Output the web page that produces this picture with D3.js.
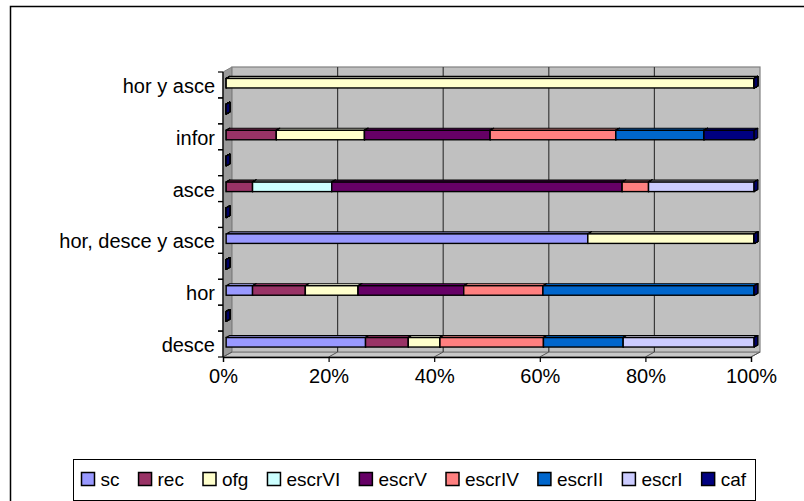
<!DOCTYPE html>
<html>
<head>
<meta charset="utf-8">
<script src="https://cdn.jsdelivr.net/npm/d3@7"></script>
<style>
  html, body { margin: 0; padding: 0; background: #fff; }
  svg { display: block; font-family: "Liberation Sans", Arial, sans-serif; }
</style>
</head>
<body>
<svg id="chart" width="804" height="501"></svg>
<script>
// Categories, bottom to top (blank rows sit between the labelled ones)
const categories = ["desce", "", "hor", "", "hor, desce y asce", "", "asce", "", "infor", "", "hor y asce"];

// Series (percent of each row)
const seriesNames = ["sc", "rec", "ofg", "escrVI", "escrV", "escrIV", "escrII", "escrI", "caf"];
const seriesColors = ["#9999FF", "#993366", "#FFFFCC", "#CCFFFF", "#660066", "#FF8080", "#0066CC", "#CCCCFF", "#000080"];

const sc     = [26.4, 0,  5, 0, 68.5, 0,  0, 0,  0,   0,   0];
const rec    = [ 8.1, 0, 10, 0,  0,   0,  5, 0,  9.5, 0,   0];
const ofg    = [ 6.0, 0, 10, 0, 31.5, 0,  0, 0, 16.7, 0, 100];
const escrVI = [ 0,   0,  0, 0,  0,   0, 15, 0,  0,   0,   0];
const escrV  = [ 0,   0, 20, 0,  0,   0, 55, 0, 23.8, 0,   0];
const escrIV = [19.6, 0, 15, 0,  0,   0,  5, 0, 23.8, 0,   0];
const escrII = [15.1, 0, 40, 0,  0,   0,  0, 0, 16.7, 0,   0];
const escrI  = [24.8, 0,  0, 0,  0,   0, 20, 0,  0,   0,   0];
const caf    = [ 0,   0,  0, 0,  0,   0,  0, 0,  9.5, 0,   0];

const xTicks = [0, 0.2, 0.4, 0.6, 0.8, 1];

const seriesValues = [sc, rec, ofg, escrVI, escrV, escrIV, escrII, escrI, caf];

const rows = categories.map((c, i) => {
  const r = { key: i };
  seriesNames.forEach((s, k) => { r[s] = seriesValues[k][i]; });
  return r;
});

const stacked = d3.stack()
  .keys(seriesNames)
  .offset(d3.stackOffsetExpand)(rows);

const svg = d3.select("#chart");

// Outer chart frame
svg.append("rect")
  .attr("x", 10.5).attr("y", 6.5)
  .attr("width", 820).attr("height", 520)
  .attr("fill", "#fff").attr("stroke", "#000").attr("stroke-width", 1.5);

// Plot geometry (front plane) and depth offset
const plotLeft = 223, plotRight = 751, plotTop = 72, plotBottom = 357;
const depth = { x: 9, y: -5 };

const x = d3.scaleLinear().domain([0, 1]).range([plotLeft, plotRight]);
const y = d3.scaleBand()
  .domain(d3.range(categories.length))
  .range([plotBottom, plotTop])
  .padding(0);

const g = svg.append("g");

// Side wall
g.append("polygon")
  .attr("points", [[plotLeft, plotTop], [plotLeft + depth.x, plotTop + depth.y], [plotLeft + depth.x, plotBottom + depth.y], [plotLeft, plotBottom]].join(" "))
  .attr("fill", "#9a9a9a").attr("stroke", "#808080").attr("stroke-width", 1);

// Floor
g.append("polygon")
  .attr("points", [[plotLeft, plotBottom], [plotLeft + depth.x, plotBottom + depth.y], [plotRight + depth.x, plotBottom + depth.y], [plotRight, plotBottom]].join(" "))
  .attr("fill", "#c8c8c8").attr("stroke", "#808080").attr("stroke-width", 1);

// Back wall
g.append("rect")
  .attr("x", plotLeft + depth.x).attr("y", plotTop + depth.y)
  .attr("width", plotRight - plotLeft).attr("height", plotBottom - plotTop)
  .attr("fill", "#c0c0c0").attr("stroke", "#808080").attr("stroke-width", 1.2);

// Gridlines on the back wall and the floor
xTicks.filter(t => t > 0 && t < 1).forEach(t => {
  g.append("line")
    .attr("x1", x(t) + depth.x).attr("x2", x(t) + depth.x)
    .attr("y1", plotTop + depth.y).attr("y2", plotBottom + depth.y)
    .attr("stroke", "#3a3a3a").attr("stroke-width", 1.2);
});
xTicks.forEach(t => {
  g.append("line")
    .attr("x1", x(t)).attr("y1", plotBottom)
    .attr("x2", x(t) + depth.x).attr("y2", plotBottom + depth.y)
    .attr("stroke", "#555").attr("stroke-width", 1);
});

// Bars: front face, top face and end face for each stacked segment
const f1 = 0.35, f2 = 0.75;
const fx = depth.x * f1, fy = depth.y * f1;
const bx = depth.x * (f2 - f1), by = depth.y * (f2 - f1);
const barH = 9.5;

const bars = g.append("g");
categories.forEach((c, i) => {
  const yc = y(i) + y.bandwidth() / 2 + fy;
  const y0 = yc - barH / 2, y1 = yc + barH / 2;
  stacked.forEach((layer, k) => {
    const d = layer[i];
    const xa = x(d[0]) + fx, xb = x(d[1]) + fx;
    const col = d3.color(seriesColors[k]);
    // top face
    bars.append("polygon")
      .attr("points", [[xa, y0], [xa + bx, y0 + by], [xb + bx, y0 + by], [xb, y0]].join(" "))
      .attr("fill", col.brighter(0.35)).attr("stroke", "#000").attr("stroke-width", 1.2)
      .attr("stroke-linejoin", "round");
    // front face
    bars.append("rect")
      .attr("x", xa).attr("y", y0)
      .attr("width", xb - xa).attr("height", y1 - y0)
      .attr("fill", col).attr("stroke", "#000").attr("stroke-width", 1.4);
    // end face
    bars.append("polygon")
      .attr("points", [[xb, y0], [xb + bx, y0 + by], [xb + bx, y1 + by], [xb, y1]].join(" "))
      .attr("fill", col.darker(0.6)).attr("stroke", "#000").attr("stroke-width", 1.2)
      .attr("stroke-linejoin", "round");
  });
});

// Category axis
g.append("line")
  .attr("x1", plotLeft).attr("x2", plotLeft)
  .attr("y1", plotTop).attr("y2", plotBottom)
  .attr("stroke", "#000").attr("stroke-width", 1.3);
categories.forEach((c, i) => {
  [y(i), y(i) + y.bandwidth()].forEach(v => {
    g.append("line")
      .attr("x1", plotLeft - 5).attr("x2", plotLeft)
      .attr("y1", v).attr("y2", v)
      .attr("stroke", "#000").attr("stroke-width", 1.2);
  });
  if (c) {
    g.append("text")
      .attr("x", 215)
      .attr("y", y(i) + y.bandwidth() / 2 + 1)
      .attr("text-anchor", "end")
      .attr("dominant-baseline", "central")
      .attr("font-size", 20)
      .attr("fill", "#000")
      .text(c);
  }
});

// Value axis
const xAxis = d3.axisBottom(x)
  .tickValues(xTicks)
  .tickFormat(d3.format(".0%"))
  .tickSize(5)
  .tickPadding(7);
const ax = g.append("g")
  .attr("transform", `translate(0,${plotBottom})`)
  .call(xAxis);
ax.select(".domain").attr("stroke", "#000").attr("stroke-width", 1.3);
ax.selectAll(".tick line").attr("stroke", "#000").attr("stroke-width", 1.2);
ax.selectAll(".tick text")
  .attr("font-size", 20)
  .attr("font-family", "\"Liberation Sans\", Arial, sans-serif")
  .attr("fill", "#000");

// Legend
const legend = svg.append("g");
legend.append("rect")
  .attr("x", 73.5).attr("y", 459.5)
  .attr("width", 682).attr("height", 41)
  .attr("fill", "#fff").attr("stroke", "#000").attr("stroke-width", 1);

const items = legend.selectAll("g.item")
  .data(seriesNames)
  .enter().append("g").attr("class", "item");
items.append("rect")
  .attr("width", 13).attr("height", 13)
  .attr("y", 472.5)
  .attr("fill", (d, k) => seriesColors[k])
  .attr("stroke", "#000").attr("stroke-width", 1.5);
items.append("text")
  .attr("y", 479)
  .attr("x", 19)
  .attr("dominant-baseline", "central")
  .attr("font-size", 19)
  .attr("fill", "#000")
  .text(d => d);

// Spread items so they fill the legend box
const widths = [];
items.each(function () {
  widths.push(19 + d3.select(this).select("text").node().getComputedTextLength());
});
const startX = 81.5, endX = 746;
const gap = (endX - startX - d3.sum(widths)) / (widths.length - 1);
let cx = startX;
items.each(function (d, k) {
  d3.select(this).select("rect").attr("x", cx);
  d3.select(this).select("text").attr("x", cx + 19);
  cx += widths[k] + gap;
});
</script>
</body>
</html>
